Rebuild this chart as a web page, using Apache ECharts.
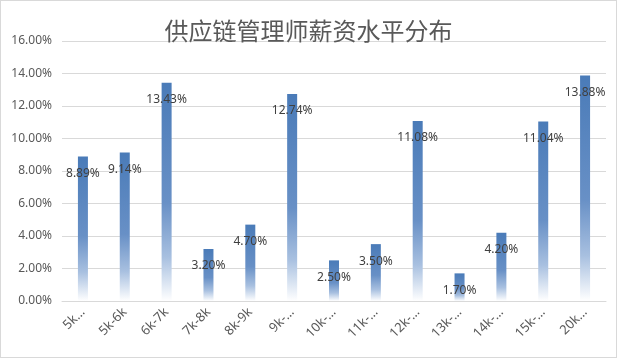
<!DOCTYPE html>
<html>
<head>
<meta charset="utf-8">
<script src="https://cdn.jsdelivr.net/npm/echarts@6/dist/echarts.min.js"></script>
<style>
	html, body { margin: 0; padding: 0; background: #fff; }
	#chartmain { width: 615px; height: 356px; border: 1px solid #d9d9d9; }
</style>
</head>
<body>
<div id="chartmain"></div>
<script>
// 薪资区间
var categories = ['5k…', '5k-6k', '6k-7k', '7k-8k', '8k-9k', '9k-…', '10k-…', '11k-…', '12k-…', '13k-…', '14k-…', '15k-…', '20k…'];
// 占比 (%)
var percents = [8.89, 9.14, 13.43, 3.20, 4.70, 12.74, 2.50, 3.50, 11.08, 1.70, 4.20, 11.04, 13.88];
var yTicks = [0, 2, 4, 6, 8, 10, 12, 14, 16];

var barColor = new echarts.graphic.LinearGradient(0, 0, 0, 1, [
	{ offset: 0, color: '#4a7bb8' },
	{ offset: 0.55, color: '#6890c6' },
	{ offset: 0.8, color: '#a8c0e0' },
	{ offset: 1, color: '#ffffff' }
]);

var option = {
	animation: false,
	title: {
		text: '供应链管理师薪资水平分布',
		left: 'center',
		top: 13,
		textStyle: {
			fontFamily: 'Noto Sans CJK SC',
			fontSize: 24,
			fontWeight: 'normal',
			color: '#595959'
		}
	},
	grid: { left: 61, right: 10, top: 40, bottom: 56 },
	xAxis: {
		type: 'category',
		data: categories,
		axisLine: { lineStyle: { color: '#d9d9d9' } },
		axisTick: { show: false },
		axisLabel: {
			rotate: 45,
			interval: 0,
			margin: 9,
			color: '#595959',
			fontSize: 13,
			fontFamily: 'Noto Sans'
		}
	},
	yAxis: {
		type: 'value',
		min: yTicks[0],
		max: yTicks[yTicks.length - 1],
		interval: 2,
		axisLine: { show: false },
		axisTick: { show: false },
		splitLine: { lineStyle: { color: '#d9d9d9' } },
		axisLabel: {
			margin: 10,
			color: '#595959',
			fontSize: 12,
			fontFamily: 'Noto Sans',
			formatter: function (v) { return v.toFixed(2) + '%'; }
		}
	},
	series: [{
		type: 'bar',
		data: percents,
		barWidth: 10,
		itemStyle: { color: barColor },
		label: {
			show: true,
			position: 'insideTop',
			distance: 11,
			color: '#404040',
			fontSize: 12,
			fontFamily: 'Noto Sans',
			formatter: function (p) { return p.value.toFixed(2) + '%'; }
		}
	}]
};

var myChart = echarts.init(document.getElementById('chartmain'));
myChart.setOption(option);
</script>
</body>
</html>
